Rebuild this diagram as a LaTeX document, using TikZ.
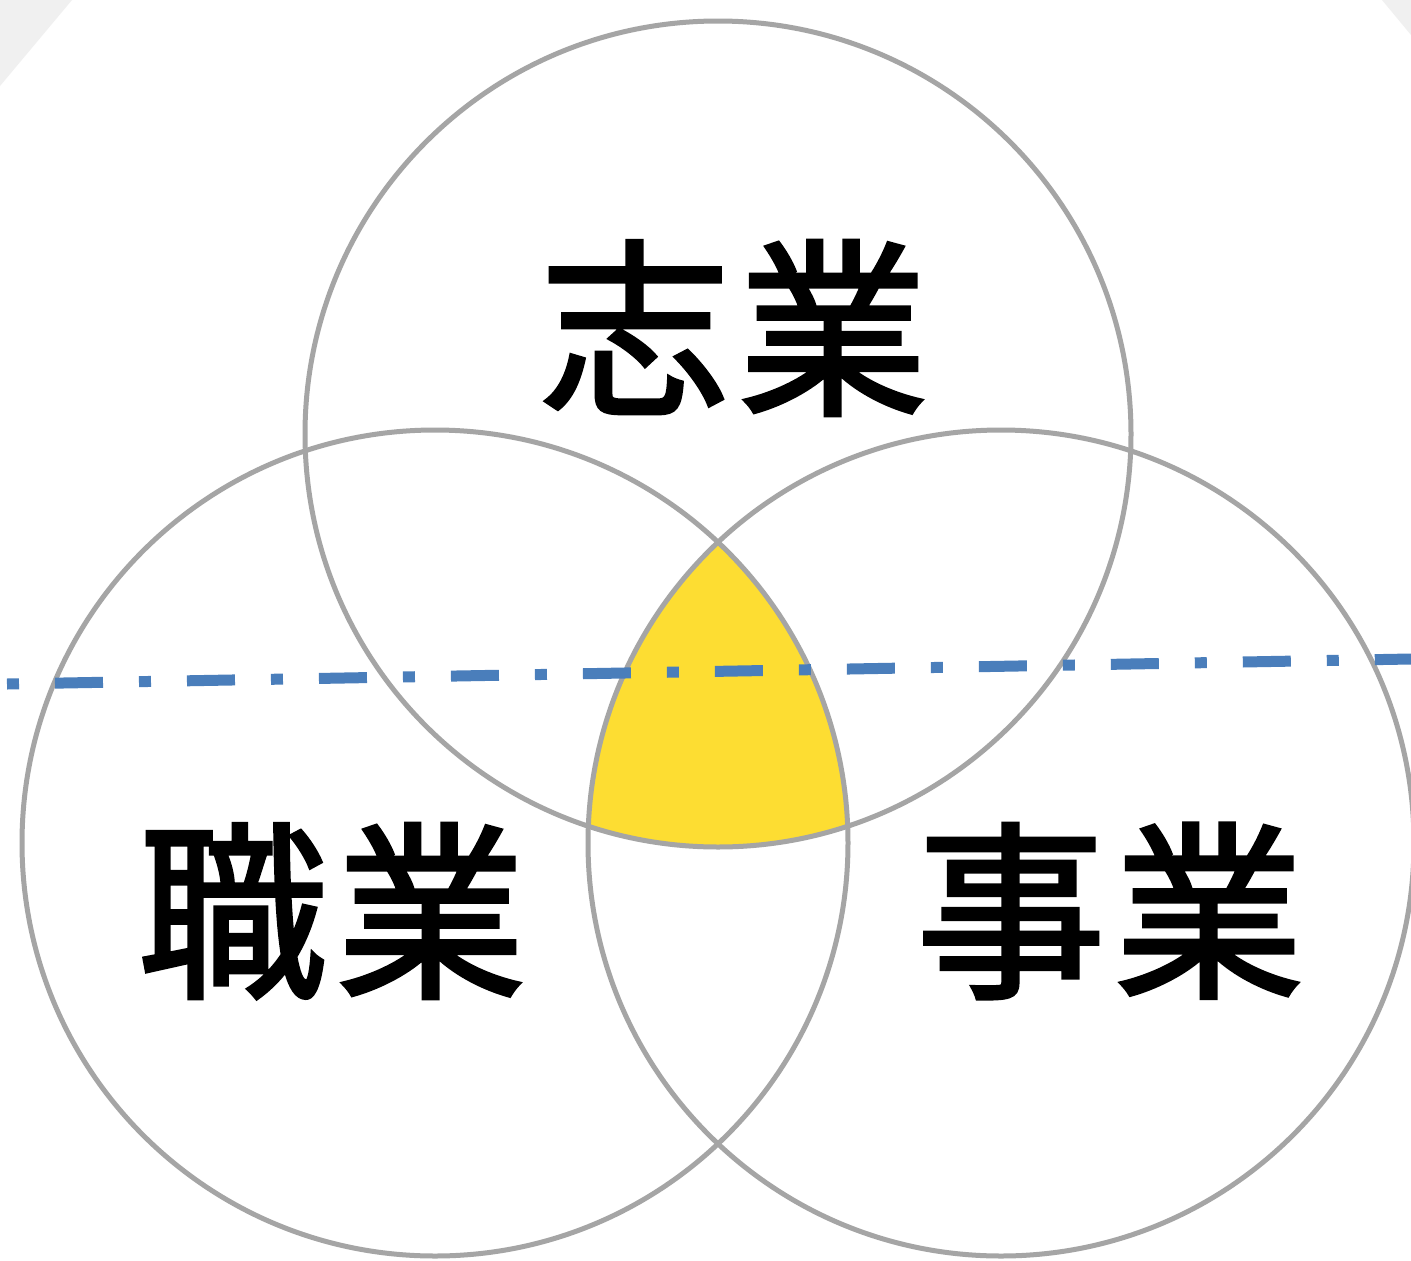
\documentclass[tikz,border=0pt]{standalone}
\usepackage{fontspec}
\newfontfamily\cjk[FakeBold=2]{Noto Sans CJK JP}
\definecolor{ringgray}{HTML}{A5A5A5}
\definecolor{coreyellow}{HTML}{FDDD32}
\definecolor{lineblue}{HTML}{4A7EBB}
\definecolor{cornergray}{HTML}{F0F0F0}
\tikzset{
  ring/.style={draw=ringgray, line width=5pt},
  bigword/.style={font=\cjk\fontsize{190pt}{200pt}\selectfont, inner sep=0pt, text=black},
  axisline/.style={draw=lineblue, line width=11pt, dash pattern=on 12pt off 36pt on 48pt off 36pt}
}
\begin{document}
\begin{tikzpicture}[x=1pt,y=-1pt]
\useasboundingbox (0,0) rectangle (1411,1261);
\fill[white] (0,0) rectangle (1411,1261);
\fill[cornergray] (0,0) -- (72,0) -- (0,86) -- cycle;
\fill[cornergray] (1382,0) -- (1411,0) -- (1411,35) -- cycle;
\coordinate (cT) at (718,434);
\coordinate (cL) at (435,843);
\coordinate (cR) at (1001,843);
\begin{scope}
  \clip (cT) circle (413);
  \clip (cL) circle (413);
  \fill[coreyellow] (cR) circle (413);
\end{scope}
\draw[ring] (cT) circle (413);
\draw[ring] (cL) circle (413);
\draw[ring] (cR) circle (413);
\coordinate (lineA) at (7,684);
\coordinate (lineB) at (1411,659);
\draw[axisline] (lineA) -- (lineB);
\node[bigword] (shigyo) at (734,328) {志\hspace{8pt}業};
\node[bigword] (shokugyo) at (332,911) {職\hspace{8pt}業};
\node[bigword] (jigyo) at (1110,911) {事\hspace{8pt}業};
\end{tikzpicture}
\end{document}
